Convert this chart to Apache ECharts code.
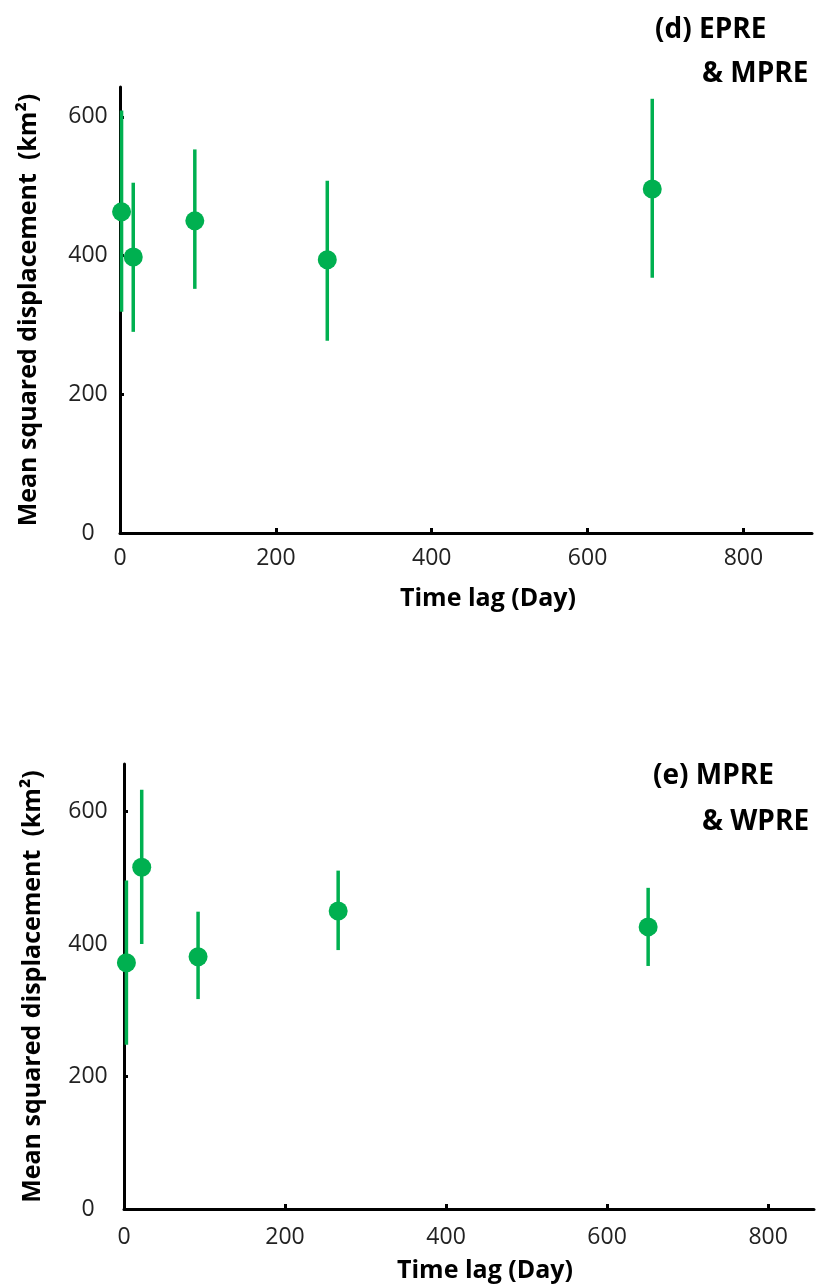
<!DOCTYPE html>
<html>
<head>
<meta charset="utf-8">
<script src="https://cdn.jsdelivr.net/npm/echarts@6/dist/echarts.min.js"></script>
<style>
  html, body { margin: 0; padding: 0; background: #fff; }
  #chart { width: 820px; height: 1287px; }
</style>
</head>
<body>
<div id="chart"></div>
<script>
// panel (d) EPRE & MPRE
const lagD = [2, 17, 96, 266, 683];
const msdD = [463, 398, 450, 394, 496];
const lowD = [319, 290, 352, 277, 368];
const highD = [609, 505, 553, 508, 626];

// panel (e) MPRE & WPRE
const lagE = [3, 22, 92, 266, 651];
const msdE = [372, 516, 381, 450, 426];
const lowE = [248, 400, 317, 391, 367];
const highE = [496, 633, 449, 511, 485];

const panelTitles = [["(d) EPRE", "& MPRE"], ["(e) MPRE", "& WPRE"]];
const xName = "Time lag (Day)";
const yName = "Mean squared displacement  (km\u00b2)";

const green = "#00b050";
const font = "Open Sans";

const chart = echarts.init(document.getElementById("chart"));

function errorBars(lags, lows, highs, idx) {
  return {
    type: "custom",
    xAxisIndex: idx,
    yAxisIndex: idx,
    data: lags.map((x, i) => [x, lows[i], highs[i]]),
    encode: { x: 0, y: [1, 2] },
    renderItem(params, api) {
      const a = api.coord([api.value(0), api.value(1)]);
      const b = api.coord([api.value(0), api.value(2)]);
      return {
        type: "line",
        shape: { x1: a[0], y1: a[1], x2: b[0], y2: b[1] },
        style: { stroke: green, lineWidth: 3.5 }
      };
    },
    z: 2
  };
}

function dots(lags, vals, idx) {
  return {
    type: "scatter",
    xAxisIndex: idx,
    yAxisIndex: idx,
    data: lags.map((x, i) => [x, vals[i]]),
    symbol: "circle",
    symbolSize: 19,
    itemStyle: { color: green, opacity: 1 },
    z: 3
  };
}

function xAxis(idx, max, shift, gap, labelMargin) {
  return {
    type: "value",
    gridIndex: idx,
    min: 0,
    max: max,
    interval: 200,
    name: xName,
    nameLocation: "middle",
    nameGap: gap,
    nameTextStyle: {
      fontFamily: font, fontSize: 25, fontWeight: "bold", color: "#000",
      padding: [0, 0, 0, shift]
    },
    splitLine: { show: false },
    axisLine: { show: true, onZero: false, lineStyle: { color: "#000", width: 3 } },
    axisTick: { show: true, inside: true, length: 5, lineStyle: { color: "#000", width: 3 } },
    axisLabel: {
      fontFamily: font, fontSize: 23, color: "#222", margin: labelMargin,
      showMaxLabel: false
    }
  };
}

function yAxis(idx, max, labelMargin) {
  return {
    type: "value",
    gridIndex: idx,
    min: 0,
    max: max,
    interval: 200,
    name: yName,
    nameLocation: "middle",
    nameGap: 79,
    nameTextStyle: { fontFamily: font, fontSize: 25, fontWeight: "bold", color: "#000" },
    splitLine: { show: false },
    axisLine: { show: true, onZero: false, lineStyle: { color: "#000", width: 3 } },
    axisTick: { show: true, inside: true, length: 4, lineStyle: { color: "#000", width: 3 } },
    axisLabel: {
      fontFamily: font, fontSize: 23, color: "#222", margin: labelMargin,
      align: "center", showMaxLabel: false
    }
  };
}

const titleStyle = { fontFamily: font, fontSize: 28, fontWeight: "bold", color: "#000" };

chart.setOption({
  animation: false,
  backgroundColor: "#fff",
  title: [
    { text: panelTitles[0][0], left: 655, top: 16, padding: 0, textStyle: titleStyle },
    { text: panelTitles[0][1], left: 702, top: 60, padding: 0, textStyle: titleStyle },
    { text: panelTitles[1][0], left: 653, top: 762, padding: 0, textStyle: titleStyle },
    { text: panelTitles[1][1], left: 702, top: 808, padding: 0, textStyle: titleStyle }
  ],
  grid: [
    { left: 120, top: 87, width: 692, height: 446 },
    { left: 124, top: 764, width: 690, height: 445 }
  ],
  xAxis: [xAxis(0, 888, 44, 53, 14), xAxis(1, 857, 32, 49, 17)],
  yAxis: [yAxis(0, 643, 32), yAxis(1, 672, 36)],
  series: [
    errorBars(lagD, lowD, highD, 0),
    dots(lagD, msdD, 0),
    errorBars(lagE, lowE, highE, 1),
    dots(lagE, msdE, 1)
  ]
});
</script>
</body>
</html>
